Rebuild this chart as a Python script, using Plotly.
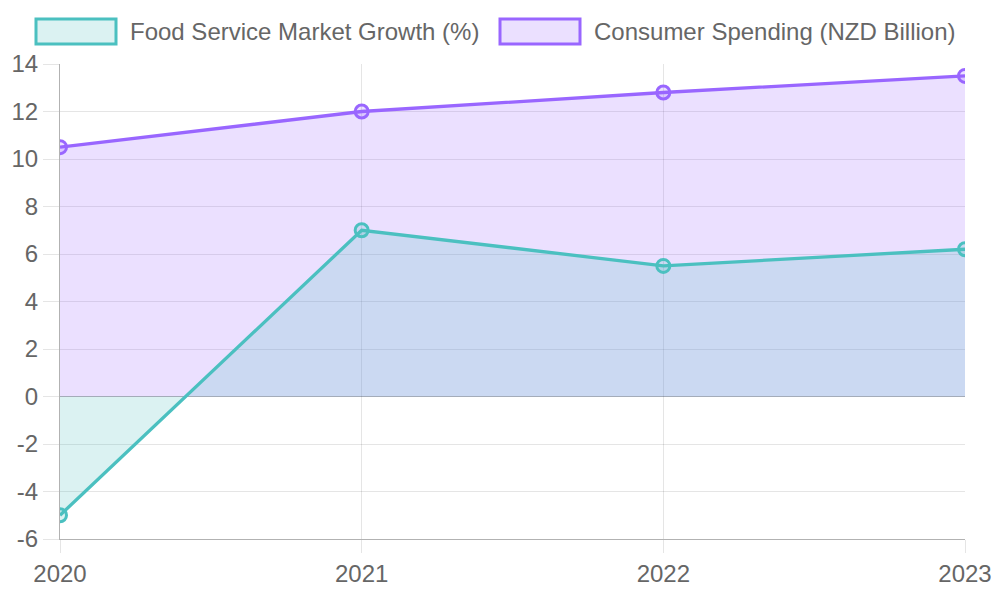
import plotly.graph_objects as go

years = [2020, 2021, 2022, 2023]
year_labels = ["2020", "2021", "2022", "2023"]
food_growth = [-5, 7, 5.5, 6.2]
consumer_spending = [10.5, 12.0, 12.8, 13.5]
y_ticks = [-6, -4, -2, 0, 2, 4, 6, 8, 10, 12, 14]
y_tick_labels = ["-6", "-4", "-2", "0", "2", "4", "6", "8", "10", "12", "14"]

series_names = ["Food Service Market Growth (%)", "Consumer Spending (NZD Billion)"]
teal = "rgb(75,192,192)"
teal_fill = "rgba(75,192,192,0.2)"
purple = "rgb(153,102,255)"
purple_fill = "rgba(153,102,255,0.2)"

fig = go.Figure()
# drawn in reverse order so the first series sits on top
fig.add_trace(go.Scatter(
    x=years, y=consumer_spending, name=series_names[1], mode="lines+markers",
    fill="tozeroy", fillcolor=purple_fill,
    line=dict(color=purple, width=3.3),
    marker=dict(size=13, color=purple_fill, line=dict(color=purple, width=3)),
    showlegend=False,
))
fig.add_trace(go.Scatter(
    x=years, y=food_growth, name=series_names[0], mode="lines+markers",
    fill="tozeroy", fillcolor=teal_fill,
    line=dict(color=teal, width=3.3),
    marker=dict(size=13, color=teal_fill, line=dict(color=teal, width=3)),
    showlegend=False,
))

font_family = "Liberation Sans, Arial, sans-serif"
grid = "rgba(0,0,0,0.1)"
axis_col = "rgba(0,0,0,0.3)"

# legend drawn as boxes + labels
legend_items = [
    (36, 116, 128, series_names[0], teal, teal_fill),
    (500, 580, 592, series_names[1], purple, purple_fill),
]
shapes = []
annotations = []
for x0, x1, tx, label, c, fc in legend_items:
    shapes.append(dict(type="rect", xref="paper", yref="paper",
                       x0=(x0 - 60) / 905, x1=(x1 - 60) / 905,
                       y0=(539 - 44) / 475, y1=(539 - 19) / 475,
                       line=dict(color=c, width=3), fillcolor=fc))
    annotations.append(dict(xref="paper", yref="paper", x=(tx - 60) / 905,
                            y=(539 - 31.5) / 475, text=label, showarrow=False,
                            xanchor="left", yanchor="middle",
                            font=dict(size=24, color="#666", family=font_family)))

fig.update_layout(
    width=1000, height=600,
    margin=dict(l=60, r=35, t=64, b=61),
    paper_bgcolor="white", plot_bgcolor="white",
    font=dict(family=font_family, color="#666", size=24),
    shapes=shapes, annotations=annotations,
    xaxis=dict(range=[2020, 2023], tickvals=years, ticktext=year_labels,
               automargin=False,
               showgrid=True, gridcolor=grid, gridwidth=1,
               ticks="outside", ticklen=13, tickcolor=grid,
               showline=True, linecolor=axis_col, linewidth=1,
               zeroline=False, tickfont=dict(size=24, color="#666")),
    yaxis=dict(range=[-6, 14], tickvals=y_ticks, ticktext=y_tick_labels,
               automargin=False,
               showgrid=True, gridcolor=grid, gridwidth=1,
               ticks="outside", ticklen=16, tickcolor=grid,
               showline=True, linecolor=axis_col, linewidth=1,
               zeroline=True, zerolinecolor=axis_col, zerolinewidth=1,
               tickfont=dict(size=24, color="#666")),
)

fig.write_html("out.html")
